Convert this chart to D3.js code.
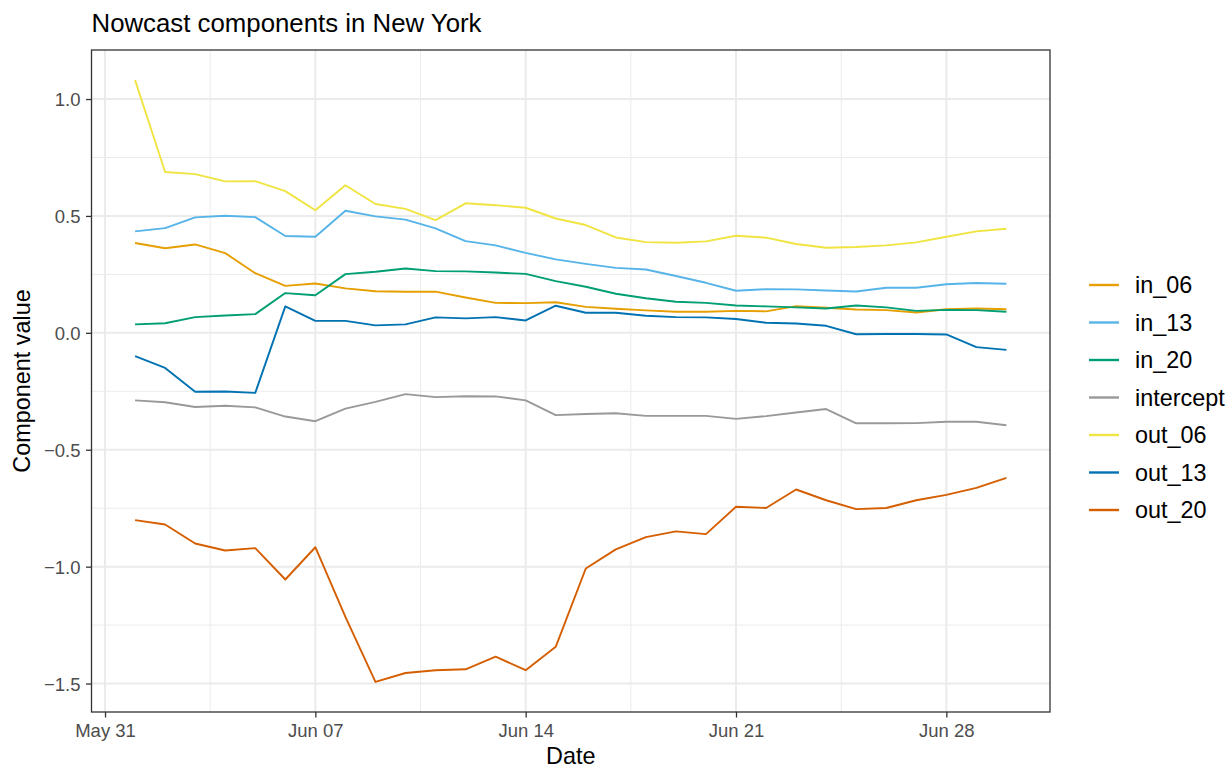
<!DOCTYPE html>
<html>
<head>
<meta charset="utf-8">
<script src="https://cdn.jsdelivr.net/npm/d3@7"></script>
<style>
  html, body { margin: 0; padding: 0; background: #ffffff; }
  svg { display: block; font-family: "Liberation Sans", Arial, Helvetica, sans-serif; }
</style>
</head>
<body>
<svg id="chart" width="1229" height="768"></svg>
<script>
const dates = ["2020-06-01","2020-06-02","2020-06-03","2020-06-04","2020-06-05","2020-06-06","2020-06-07","2020-06-08","2020-06-09","2020-06-10",
  "2020-06-11","2020-06-12","2020-06-13","2020-06-14","2020-06-15","2020-06-16","2020-06-17","2020-06-18","2020-06-19","2020-06-20",
  "2020-06-21","2020-06-22","2020-06-23","2020-06-24","2020-06-25","2020-06-26","2020-06-27","2020-06-28","2020-06-29","2020-06-30"];

const seriesNames = ["in_06","in_13","in_20","intercept","out_06","out_13","out_20"];
const seriesColors = ["#E69F00","#56B4E9","#009E73","#999999","#F0E442","#0072B2","#D55E00"];

const in_06 = [0.384,0.362,0.378,0.341,0.255,0.201,0.211,0.190,0.178,0.176,0.176,0.151,0.128,0.127,0.131,0.111,0.103,0.096,0.090,0.090,0.094,0.092,0.114,0.107,0.100,0.097,0.087,0.101,0.104,0.101];
const in_13 = [0.434,0.448,0.494,0.501,0.495,0.414,0.411,0.522,0.498,0.484,0.447,0.392,0.374,0.342,0.314,0.295,0.278,0.271,0.243,0.214,0.180,0.187,0.186,0.181,0.177,0.193,0.193,0.208,0.213,0.210];
const in_20 = [0.036,0.041,0.067,0.074,0.080,0.170,0.161,0.251,0.261,0.275,0.264,0.263,0.258,0.252,0.221,0.197,0.167,0.148,0.133,0.128,0.117,0.113,0.109,0.104,0.117,0.109,0.094,0.098,0.097,0.090];
const intercept = [-0.289,-0.297,-0.317,-0.312,-0.319,-0.358,-0.378,-0.324,-0.295,-0.262,-0.275,-0.271,-0.272,-0.289,-0.352,-0.347,-0.344,-0.355,-0.355,-0.355,-0.368,-0.356,-0.341,-0.326,-0.387,-0.387,-0.386,-0.380,-0.380,-0.395];
const out_06 = [1.081,0.688,0.679,0.648,0.649,0.606,0.524,0.631,0.551,0.530,0.482,0.554,0.546,0.535,0.489,0.461,0.408,0.388,0.385,0.391,0.415,0.407,0.380,0.364,0.367,0.374,0.387,0.411,0.434,0.445];
const out_13 = [-0.100,-0.150,-0.252,-0.251,-0.257,0.113,0.051,0.051,0.032,0.036,0.066,0.062,0.067,0.053,0.116,0.086,0.086,0.073,0.067,0.066,0.059,0.043,0.040,0.030,-0.006,-0.005,-0.005,-0.007,-0.061,-0.073];
const out_20 = [-0.801,-0.820,-0.901,-0.931,-0.921,-1.055,-0.917,-1.215,-1.493,-1.455,-1.443,-1.439,-1.385,-1.443,-1.343,-1.008,-0.926,-0.874,-0.849,-0.861,-0.744,-0.749,-0.670,-0.716,-0.754,-0.749,-0.716,-0.693,-0.663,-0.620];

const xTickDates = ["2020-05-31","2020-06-07","2020-06-14","2020-06-21","2020-06-28"];
const xMinorDates = ["2020-06-03T12:00:00Z","2020-06-10T12:00:00Z","2020-06-17T12:00:00Z","2020-06-24T12:00:00Z"];
const yTicks = [-1.5,-1.0,-0.5,0.0,0.5,1.0];
const yMinor = [-1.25,-0.75,-0.25,0.25,0.75];

const titleText = "Nowcast components in New York";
const xTitle = "Date";
const yTitle = "Component value";

const seriesValues = [in_06, in_13, in_20, intercept, out_06, out_13, out_20];

const parse = s => new Date(s.length > 10 ? s : s + "T00:00:00Z");
const dateObjs = dates.map(parse);

const svg = d3.select("#chart");
const panel = { left: 91.5, right: 1050, top: 50, bottom: 712 };

const xExt = d3.extent(dateObjs);
const xSpan = xExt[1] - xExt[0];
const x = d3.scaleUtc()
  .domain([new Date(+xExt[0] - 0.05 * xSpan), new Date(+xExt[1] + 0.05 * xSpan)])
  .range([panel.left, panel.right]);

const allVals = seriesValues.flat();
const yExt = d3.extent(allVals);
const ySpan = yExt[1] - yExt[0];
const y = d3.scaleLinear()
  .domain([yExt[0] - 0.05 * ySpan, yExt[1] + 0.05 * ySpan])
  .range([panel.bottom, panel.top]);

svg.append("rect").attr("x", panel.left).attr("y", panel.top)
  .attr("width", panel.right - panel.left).attr("height", panel.bottom - panel.top)
  .attr("fill", "#ffffff");

const grid = svg.append("g");
grid.selectAll("line.ymin").data(yMinor).join("line")
  .attr("x1", panel.left).attr("x2", panel.right)
  .attr("y1", d => y(d)).attr("y2", d => y(d))
  .attr("stroke", "#ebebeb").attr("stroke-width", 1);
grid.selectAll("line.xmin").data(xMinorDates.map(parse)).join("line")
  .attr("y1", panel.top).attr("y2", panel.bottom)
  .attr("x1", d => x(d)).attr("x2", d => x(d))
  .attr("stroke", "#ebebeb").attr("stroke-width", 1);
grid.selectAll("line.ymaj").data(yTicks).join("line")
  .attr("x1", panel.left).attr("x2", panel.right)
  .attr("y1", d => y(d)).attr("y2", d => y(d))
  .attr("stroke", "#ebebeb").attr("stroke-width", 2);
grid.selectAll("line.xmaj").data(xTickDates.map(parse)).join("line")
  .attr("y1", panel.top).attr("y2", panel.bottom)
  .attr("x1", d => x(d)).attr("x2", d => x(d))
  .attr("stroke", "#ebebeb").attr("stroke-width", 2);

const line = d3.line().x((d, i) => x(dateObjs[i])).y(d => y(d));
svg.append("g").selectAll("path").data(seriesValues).join("path")
  .attr("d", d => line(d))
  .attr("fill", "none")
  .attr("stroke", (d, i) => seriesColors[i])
  .attr("stroke-width", 1.9)
  .attr("stroke-linejoin", "round");

svg.append("rect").attr("x", panel.left).attr("y", panel.top)
  .attr("width", panel.right - panel.left).attr("height", panel.bottom - panel.top)
  .attr("fill", "none").attr("stroke", "#333333").attr("stroke-width", 1.3);

const fmt = d3.utcFormat("%b %d");
const xAxis = d3.axisBottom(x).tickValues(xTickDates.map(parse)).tickFormat(fmt)
  .tickSize(5.5).tickPadding(3);
const gx = svg.append("g").attr("transform", `translate(0,${panel.bottom})`).call(xAxis);
gx.select(".domain").remove();
gx.selectAll(".tick line").attr("stroke", "#333333").attr("stroke-width", 1.3);
gx.selectAll(".tick text").attr("fill", "#4d4d4d").attr("font-size", 18.5)
  .attr("font-family", "Liberation Sans, Arial, sans-serif")
  .attr("dy", null).attr("y", 25);

const yAxis = d3.axisLeft(y).tickValues(yTicks)
  .tickFormat(d => (d < 0 ? "\u2212" : "") + Math.abs(d).toFixed(1))
  .tickSize(5.5).tickPadding(5);
const gy = svg.append("g").attr("transform", `translate(${panel.left},0)`).call(yAxis);
gy.select(".domain").remove();
gy.selectAll(".tick line").attr("stroke", "#333333").attr("stroke-width", 1.3);
gy.selectAll(".tick text").attr("fill", "#4d4d4d").attr("font-size", 18.5)
  .attr("font-family", "Liberation Sans, Arial, sans-serif")
  .attr("x", -11).attr("dy", "0.36em");

svg.append("text").attr("x", panel.left).attr("y", 32)
  .attr("font-size", 25.8).attr("fill", "#000").text(titleText);
svg.append("text").attr("x", (panel.left + panel.right) / 2).attr("y", 764)
  .attr("text-anchor", "middle").attr("font-size", 23.4).attr("fill", "#000").text(xTitle);
svg.append("text")
  .attr("transform", `translate(30,${(panel.top + panel.bottom) / 2}) rotate(-90)`)
  .attr("text-anchor", "middle").attr("font-size", 23.4).attr("fill", "#000").text(yTitle);

const legend = svg.append("g");
const legY0 = 285, legStep = 37.5;
seriesNames.forEach((name, i) => {
  const yy = legY0 + i * legStep;
  legend.append("line").attr("x1", 1089).attr("x2", 1119).attr("y1", yy).attr("y2", yy)
    .attr("stroke", seriesColors[i]).attr("stroke-width", 2.4);
  legend.append("text").attr("x", 1135).attr("y", yy).attr("dy", "0.36em")
    .attr("font-size", 23.4).attr("fill", "#000").text(name);
});
</script>
</body>
</html>
